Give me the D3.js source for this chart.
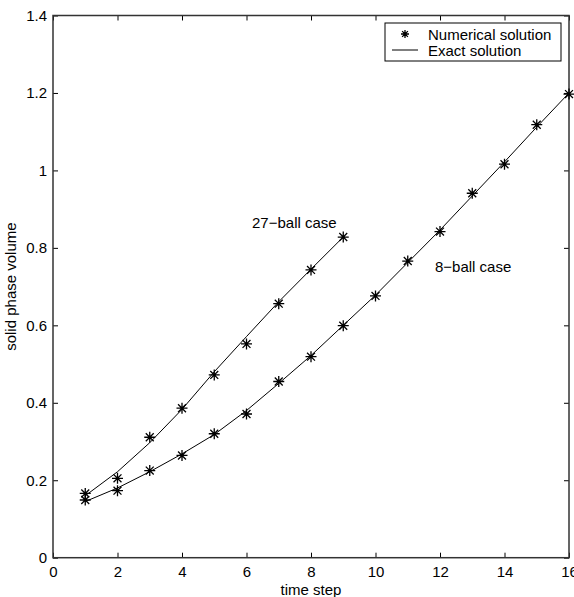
<!DOCTYPE html>
<html>
<head>
<meta charset="utf-8">
<script src="https://cdn.jsdelivr.net/npm/d3@7"></script>
<style>
	body { margin: 0; background: #fff; }
	text { font-family: "Liberation Sans", Arial, sans-serif; fill: #000; }
</style>
</head>
<body>
<div id="chart"></div>
<script>
	// time steps
	let steps27 = [1, 2, 3, 4, 5, 6, 7, 8, 9];
	let steps8 = [1, 2, 3, 4, 5, 6, 7, 8, 9, 10, 11, 12, 13, 14, 15, 16];

	// 27-ball case
	let numerical27 = [0.166, 0.205, 0.311, 0.386, 0.472, 0.552, 0.656, 0.743, 0.828];
	let exact27 = [0.160, 0.222, 0.297, 0.383, 0.480, 0.571, 0.661, 0.745, 0.828];

	// 8-ball case
	let numerical8 = [0.149, 0.173, 0.225, 0.264, 0.320, 0.371, 0.455, 0.519, 0.599, 0.676, 0.766, 0.842, 0.941, 1.016, 1.118, 1.197];
	let exact8 = [0.145, 0.180, 0.222, 0.268, 0.318, 0.380, 0.450, 0.522, 0.600, 0.678, 0.762, 0.846, 0.934, 1.022, 1.112, 1.200];

	let xTicks = [0, 2, 4, 6, 8, 10, 12, 14, 16];
	let yTicks = [0, 0.2, 0.4, 0.6, 0.8, 1, 1.2, 1.4];

	let width = 574;
	let height = 597;
	let margin = { left: 53, right: 5, top: 15.5, bottom: 39.3 };
	let fontSize = "15px";

	let svg = d3.select("#chart").append("svg")
		.attr("width", width)
		.attr("height", height);

	let x = d3.scaleLinear().domain([0, 16]).range([margin.left, width - margin.right]);
	let y = d3.scaleLinear().domain([0, 1.4]).range([height - margin.bottom, margin.top]);

	// Axes (ticks pointing inward, MATLAB style box)
	let tickLen = 5;
	let axisStyle = function(g) {
		g.select(".domain").remove();
		g.selectAll(".tick line").attr("stroke", "#000").attr("stroke-width", 1);
		g.selectAll(".tick text").style("font-size", fontSize);
	};

	svg.append("g")
		.attr("transform", "translate(0," + y(0) + ")")
		.call(d3.axisBottom(x).tickValues(xTicks).tickFormat(d3.format("d")).tickSizeInner(-tickLen).tickSizeOuter(0).tickPadding(9))
		.call(axisStyle);

	svg.append("g")
		.attr("transform", "translate(0," + y(1.4) + ")")
		.call(d3.axisTop(x).tickValues(xTicks).tickFormat("").tickSizeInner(-tickLen).tickSizeOuter(0))
		.call(axisStyle);

	svg.append("g")
		.attr("transform", "translate(" + x(0) + ",0)")
		.call(d3.axisLeft(y).tickValues(yTicks).tickFormat(d3.format("~g")).tickSizeInner(-tickLen).tickSizeOuter(0).tickPadding(6))
		.call(axisStyle);

	svg.append("g")
		.attr("transform", "translate(" + x(16) + ",0)")
		.call(d3.axisRight(y).tickValues(yTicks).tickFormat("").tickSizeInner(-tickLen).tickSizeOuter(0))
		.call(axisStyle);

	// Box
	svg.append("rect")
		.attr("x", x(0))
		.attr("y", y(1.4))
		.attr("width", x(16) - x(0))
		.attr("height", y(0) - y(1.4))
		.attr("fill", "none")
		.attr("stroke", "#333")
		.attr("stroke-width", 1.5);

	// Axis labels
	svg.append("text")
		.attr("x", (x(0) + x(16)) / 2)
		.attr("y", 595)
		.attr("text-anchor", "middle")
		.style("font-size", fontSize)
		.text("time step");

	svg.append("text")
		.attr("transform", "translate(16," + (y(0) + y(1.4)) / 2 + ") rotate(-90)")
		.attr("text-anchor", "middle")
		.style("font-size", fontSize)
		.text("solid phase volume");

	// Exact lines
	let line = d3.line()
		.x(function(d) { return x(d[0]); })
		.y(function(d) { return y(d[1]); });

	let series = [
		{ steps: steps27, exact: exact27, numerical: numerical27 },
		{ steps: steps8, exact: exact8, numerical: numerical8 }
	];

	series.forEach(function(s) {
		svg.append("path")
			.datum(s.steps.map(function(t, i) { return [t, s.exact[i]]; }))
			.attr("d", line)
			.attr("fill", "none")
			.attr("stroke", "#000")
			.attr("stroke-width", 1);
	});

	// Asterisk marker
	let star = function(g, cx, cy, r) {
		let d = "M" + (cx - r) + "," + cy + "H" + (cx + r) +
			"M" + cx + "," + (cy - r) + "V" + (cy + r);
		let k = r * 0.72;
		d += "M" + (cx - k) + "," + (cy - k) + "L" + (cx + k) + "," + (cy + k) +
			"M" + (cx - k) + "," + (cy + k) + "L" + (cx + k) + "," + (cy - k);
		g.append("path")
			.attr("d", d)
			.attr("stroke", "#000")
			.attr("stroke-width", 1.3)
			.attr("fill", "none");
	};

	let markers = svg.append("g");
	series.forEach(function(s) {
		s.steps.forEach(function(t, i) {
			star(markers, x(t), y(s.numerical[i]), 5.5);
		});
	});

	// Annotations
	svg.append("text")
		.attr("x", 252)
		.attr("y", 228)
		.style("font-size", fontSize)
		.text("27\u2212ball case");

	svg.append("text")
		.attr("x", 435)
		.attr("y", 272)
		.style("font-size", fontSize)
		.text("8\u2212ball case");

	// Legend
	let legend = svg.append("g");
	legend.append("rect")
		.attr("x", 385)
		.attr("y", 23)
		.attr("width", 176)
		.attr("height", 38)
		.attr("fill", "#fff")
		.attr("stroke", "#000")
		.attr("stroke-width", 1);

	star(legend, 405, 34, 4);
	legend.append("line")
		.attr("x1", 392).attr("x2", 418)
		.attr("y1", 50).attr("y2", 50)
		.attr("stroke", "#000")
		.attr("stroke-width", 1);

	legend.append("text")
		.attr("x", 428)
		.attr("y", 39.5)
		.style("font-size", fontSize)
		.text("Numerical solution");

	legend.append("text")
		.attr("x", 428)
		.attr("y", 55.5)
		.style("font-size", fontSize)
		.text("Exact solution");
</script>
</body>
</html>
